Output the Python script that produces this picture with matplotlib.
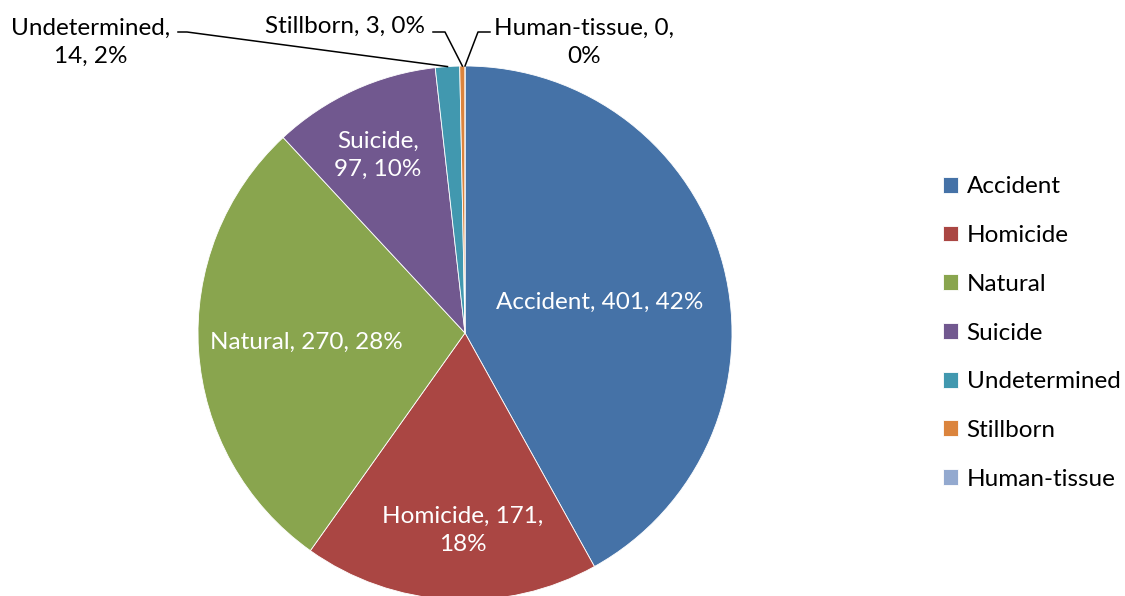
import numpy as np
import matplotlib
matplotlib.use("Agg")
import matplotlib.pyplot as plt

plt.rcParams["font.family"] = ["Lato", "DejaVu Sans"]

categories = ["Accident", "Homicide", "Natural", "Suicide",
              "Undetermined", "Stillborn", "Human-tissue"]
counts = [401, 171, 270, 97, 14, 3, 0]
percents = ["42%", "18%", "28%", "10%", "2%", "0%", "0%"]
colors = ["#4572A7", "#AA4643", "#89A54E", "#71588F",
          "#4198AF", "#DB843D", "#93A9CF"]

W, H = 1125, 596
CX, CY, R = 465, 333, 267


def px(x, y):
    # pixel position -> pie data coords
    return (x - CX) / R, (CY - y) / R


def main():
    fig = plt.figure(figsize=(W / 100, H / 100), dpi=100)
    ax = fig.add_axes([(CX - R) / W, (H - CY - R) / H, 2 * R / W, 2 * R / H])

    # zero-valued slice still needs a legend entry, give it a tiny sliver
    vals = [v if v > 0 else 1e-9 for v in counts]
    wedges, _ = ax.pie(vals, colors=colors, startangle=90, counterclock=False,
                       radius=1, wedgeprops=dict(edgecolor="white", linewidth=0.6))
    for w in wedges:
        w.set_clip_on(False)
    ax.set_xlim(-1, 1)
    ax.set_ylim(-1, 1)
    ax.axis("off")

    fs = 17.5
    ls = 1.42
    # inside labels (white)
    inside = {
        0: (600, 302),
        1: (463, 530),
        2: (306, 342),
        3: (378, 155),
    }
    for i, (x, y) in inside.items():
        label = f"{categories[i]}, {counts[i]}, {percents[i]}"
        if i == 1:
            label = f"{categories[i]}, {counts[i]},\n{percents[i]}"
        if i == 3:
            label = f"{categories[i]},\n{counts[i]}, {percents[i]}"
        ax.text(*px(x, y), label, color="white", fontsize=fs,
                ha="center", va="center", linespacing=ls)

    # outside labels with leader lines
    total = sum(counts)
    cum = np.cumsum([0] + counts)
    mids = [90 - (cum[i] + counts[i] / 2) / total * 360 for i in range(len(counts))]

    outside = {
        4: ((91, 42), f"Undetermined,\n{counts[4]}, {percents[4]}",
            [(178, 32), (187, 32)]),
        5: ((345, 26), f"Stillborn, {counts[5]}, {percents[5]}",
            [(433, 32), (445, 32)]),
        6: ((584, 42), f"Human-tissue, {counts[6]},\n{percents[6]}",
            [(490, 32), (478, 32)]),
    }
    for i, ((x, y), label, pts) in outside.items():
        ax.text(*px(x, y), label, color="black", fontsize=fs,
                ha="center", va="center", linespacing=ls)
        a = np.deg2rad(mids[i])
        xs = [px(*p)[0] for p in pts] + [np.cos(a)]
        ys = [px(*p)[1] for p in pts] + [np.sin(a)]
        ax.plot(xs, ys, color="black", lw=1.1, clip_on=False)

    fig.legend(wedges, categories, loc="center left",
               bbox_to_anchor=(943 / W, (H - 333) / H), frameon=False,
               borderpad=0, borderaxespad=0,
               fontsize=fs, handlelength=0.62, handleheight=0.62,
               handletextpad=0.35, labelspacing=1.14)

    fig.savefig("out.png", dpi=100)


if __name__ == "__main__":
    main()
